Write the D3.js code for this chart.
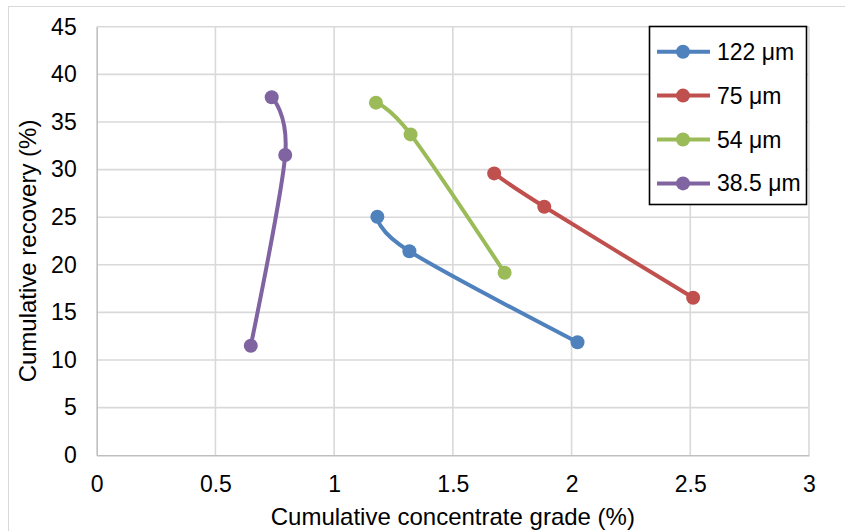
<!DOCTYPE html>
<html>
<head>
<meta charset="utf-8">
<script src="https://cdn.jsdelivr.net/npm/d3@7"></script>
<style>
  body { margin: 0; background: #fff; }
  text { font-family: "Liberation Sans", Arial, sans-serif; fill: #000; }
</style>
</head>
<body>
<script>
// data
const seriesNames = ["122 μm", "75 μm", "54 μm", "38.5 μm"];
const seriesColors = ["#4f81bd", "#c0504d", "#9bbb59", "#8064a2"];

const grade122 = [1.182, 1.317, 2.025];
const rec122 = [25.05, 21.42, 11.86];
const grade75 = [1.674, 1.885, 2.512];
const rec75 = [29.6, 26.1, 16.54];
const grade54 = [1.176, 1.322, 1.718];
const rec54 = [37.03, 33.7, 19.17];
const grade385 = [0.737, 0.794, 0.649];
const rec385 = [37.6, 31.53, 11.5];

const xTicks = [0, 0.5, 1, 1.5, 2, 2.5, 3];
const yTicks = [0, 5, 10, 15, 20, 25, 30, 35, 40, 45];

const series = [
  { name: seriesNames[0], color: seriesColors[0], x: grade122, y: rec122 },
  { name: seriesNames[1], color: seriesColors[1], x: grade75, y: rec75 },
  { name: seriesNames[2], color: seriesColors[2], x: grade54, y: rec54 },
  { name: seriesNames[3], color: seriesColors[3], x: grade385, y: rec385 }
];

let w = 845;
let h = 531;

const svg = d3.select("body")
  .append("svg")
  .attr("width", w)
  .attr("height", h);

// chart area border
svg.append("rect")
  .attr("x", 8.5).attr("y", 6.5)
  .attr("width", w).attr("height", h)
  .attr("fill", "#fff")
  .attr("stroke", "#d9d9d9")
  .attr("stroke-width", 1);

const x = d3.scaleLinear().domain([0, 3]).range([96.7, 809]);
const y = d3.scaleLinear().domain([0, 45]).range([455.2, 26.8]);

// gridlines
svg.append("g")
  .selectAll("line.v")
  .data(xTicks.slice(1))
  .enter()
  .append("line")
  .attr("x1", d => x(d)).attr("x2", d => x(d))
  .attr("y1", y(0)).attr("y2", y(45))
  .attr("stroke", "#d9d9d9")
  .attr("stroke-width", 1.6);

svg.append("g")
  .selectAll("line.h")
  .data(yTicks.slice(1))
  .enter()
  .append("line")
  .attr("x1", x(0)).attr("x2", x(3))
  .attr("y1", d => y(d)).attr("y2", d => y(d))
  .attr("stroke", "#d9d9d9")
  .attr("stroke-width", 1.6);

// axes
const xAxis = svg.append("g")
  .attr("transform", `translate(0,${y(0)})`)
  .call(d3.axisBottom(x).tickValues(xTicks).tickSize(0).tickPadding(20).tickFormat(d3.format("")));
const yAxis = svg.append("g")
  .attr("transform", `translate(${x(0)},0)`)
  .call(d3.axisLeft(y).tickValues(yTicks).tickSize(0).tickPadding(20).tickFormat(d3.format("")));

[xAxis, yAxis].forEach(g => {
  g.select(".domain").attr("stroke", "#bfbfbf").attr("stroke-width", 1.6);
  g.selectAll("text")
    .attr("font-family", '"Liberation Sans", Arial, sans-serif')
    .attr("font-size", "23px")
    .attr("fill", "#000");
});

svg.append("text")
  .attr("x", (x(0) + x(3)) / 2)
  .attr("y", 525)
  .attr("text-anchor", "middle")
  .attr("font-size", "24px")
  .text("Cumulative concentrate grade (%)");

svg.append("text")
  .attr("transform", `translate(36,${(y(0) + y(45)) / 2 + 10}) rotate(-90)`)
  .attr("text-anchor", "middle")
  .attr("font-size", "24px")
  .text("Cumulative recovery (%)");

// smoothed lines + markers
const line = d3.line()
  .x(d => x(d[0]))
  .y(d => y(d[1]))
  .curve(d3.curveCatmullRom.alpha(0));

series.forEach(s => {
  const pts = s.x.map((v, i) => [v, s.y[i]]);
  svg.append("path")
    .datum(pts)
    .attr("d", line)
    .attr("fill", "none")
    .attr("stroke", s.color)
    .attr("stroke-width", 4)
    .attr("stroke-linecap", "round");
  svg.append("g")
    .selectAll("circle")
    .data(pts)
    .enter()
    .append("circle")
    .attr("cx", d => x(d[0]))
    .attr("cy", d => y(d[1]))
    .attr("r", 7)
    .attr("fill", s.color);
});

// legend
const lg = svg.append("g");
lg.append("rect")
  .attr("x", 649.5).attr("y", 26.5)
  .attr("width", 157).attr("height", 178)
  .attr("fill", "#fff")
  .attr("stroke", "#000")
  .attr("stroke-width", 1.6);

const rows = lg.selectAll("g.row")
  .data(series)
  .enter()
  .append("g")
  .attr("transform", (d, i) => `translate(0,${51.7 + i * 43.9})`);
rows.append("line")
  .attr("x1", 657).attr("x2", 710)
  .attr("stroke", d => d.color)
  .attr("stroke-width", 4);
rows.append("circle")
  .attr("cx", 683).attr("r", 7)
  .attr("fill", d => d.color);
rows.append("text")
  .attr("x", 717)
  .attr("y", 8)
  .attr("font-size", "23px")
  .text(d => d.name);
</script>
</body>
</html>
